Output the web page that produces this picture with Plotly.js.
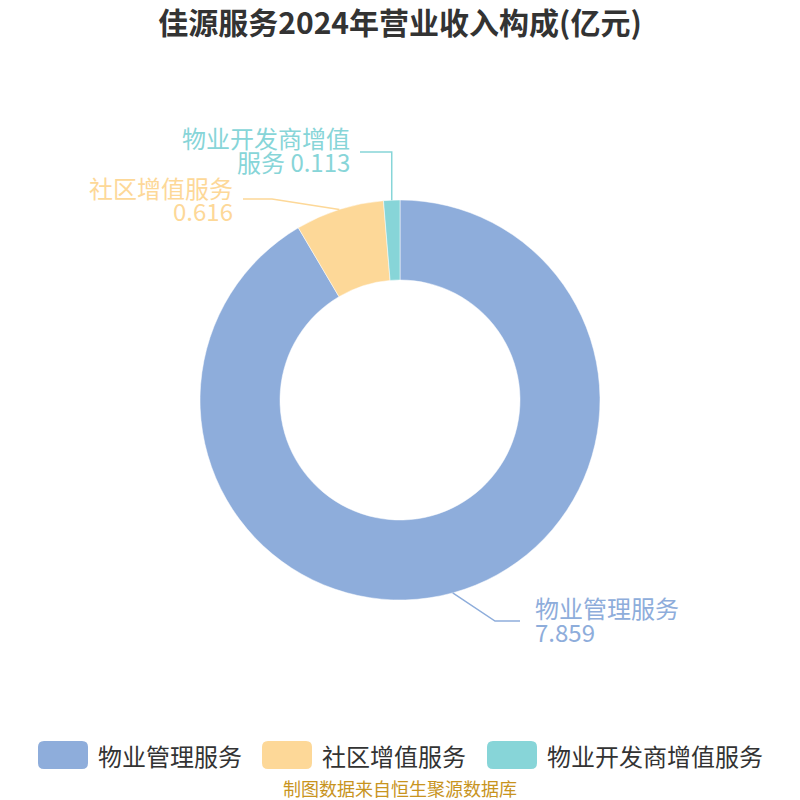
<!DOCTYPE html>
<html>
<head>
<meta charset="utf-8">
<script src="https://cdn.plot.ly/plotly-3.0.1.min.js"></script>
<style>html,body{margin:0;padding:0;background:#fff;}#chart{width:800px;height:800px;}</style>
</head>
<body>
<div id="chart"></div>
<script>
// ---- data ----
const titleText = '佳源服务2024年营业收入构成(亿元)';
const categories = ['物业管理服务', '社区增值服务', '物业开发商增值服务'];
const values = [7.859, 0.616, 0.113];
const valueLabels = ['7.859', '0.616', '0.113'];
const colors = ['#8eaddb', '#fdd898', '#87d5d8'];
const sourceText = '制图数据来自恒生聚源数据库';

// ---- layout constants (pixels) ----
const W = 800, H = 800;
const CX = 400, CY = 400, R = 200;
const FONT = '"Noto Sans CJK SC", "Microsoft YaHei", sans-serif';
const LABEL_SIZE = 24;
const LINE_GAP = 24;
// per slice label line: elbow (x or null => anchor x), elbow y, end x, side, first-line offset
const labelLayout = [
  {ex: 495, ey: 621, endx: 520, side: 'right', off: -14},
  {ex: 272, ey: 199, endx: 243, side: 'left', off: -12},
  {ex: null, ey: 152, endx: 360, side: 'left', off: -15}
];
const legendX = [38, 262, 487];
const legendY = 755;

const px = x => x / W;
const py = y => 1 - y / H;

const total = values.reduce((a, b) => a + b, 0);
const shapes = [];
const annotations = [];

let cum = 0;
values.forEach((v, i) => {
  const mid = (cum + v / 2) / total * 2 * Math.PI;
  cum += v;
  const ax = CX + R * Math.sin(mid);
  const ay = CY - R * Math.cos(mid);
  const L = labelLayout[i];
  const ex = L.ex === null ? ax : L.ex;
  const ey = L.ey;
  shapes.push({
    type: 'path', xref: 'paper', yref: 'paper',
    path: `M ${px(ax)} ${py(ay)} L ${px(ex)} ${py(ey)} L ${px(L.endx)} ${py(ey)}`,
    line: {color: colors[i], width: 1.5}
  });
  const name = categories[i];
  let lines;
  if (name.length > 7) {
    lines = [name.slice(0, 7), name.slice(7) + ' ' + valueLabels[i]];
  } else {
    lines = [name, valueLabels[i]];
  }
  const tx = L.side === 'right' ? L.endx + 13 : L.endx - 8;
  const y0 = ey + L.off;
  lines.forEach((t, k) => {
    annotations.push({
      xref: 'paper', yref: 'paper', x: px(tx), y: py(y0 + k * LINE_GAP),
      xanchor: L.side === 'right' ? 'left' : 'right', yanchor: 'middle',
      text: t, showarrow: false,
      font: {family: FONT, size: LABEL_SIZE, color: colors[i]}
    });
  });
});

// custom legend
function roundRect(x0, y0, x1, y1, r) {
  return `M ${px(x0 + r)} ${py(y0)} L ${px(x1 - r)} ${py(y0)} Q ${px(x1)} ${py(y0)} ${px(x1)} ${py(y0 + r)} ` +
    `L ${px(x1)} ${py(y1 - r)} Q ${px(x1)} ${py(y1)} ${px(x1 - r)} ${py(y1)} ` +
    `L ${px(x0 + r)} ${py(y1)} Q ${px(x0)} ${py(y1)} ${px(x0)} ${py(y1 - r)} ` +
    `L ${px(x0)} ${py(y0 + r)} Q ${px(x0)} ${py(y0)} ${px(x0 + r)} ${py(y0)} Z`;
}
categories.forEach((c, i) => {
  const x0 = legendX[i];
  shapes.push({
    type: 'path', xref: 'paper', yref: 'paper',
    path: roundRect(x0, legendY - 14, x0 + 50, legendY + 14, 6),
    fillcolor: colors[i], line: {width: 0}
  });
  annotations.push({
    xref: 'paper', yref: 'paper', x: px(x0 + 58), y: py(legendY),
    xanchor: 'left', yanchor: 'middle', text: c, showarrow: false,
    font: {family: FONT, size: 24, color: '#333333'}
  });
});

annotations.push({
  xref: 'paper', yref: 'paper', x: 0.5, y: py(788), xanchor: 'center', yanchor: 'middle',
  text: sourceText, showarrow: false,
  font: {family: FONT, size: 18, color: '#c8941e'}
});

const trace = {
  type: 'pie',
  labels: categories,
  values: values,
  marker: {colors: colors, line: {color: '#ffffff', width: 0.5}},
  hole: 0.6,
  sort: false,
  direction: 'clockwise',
  rotation: 0,
  textinfo: 'none',
  hoverinfo: 'none',
  showlegend: false,
  domain: {x: [0.25, 0.75], y: [0.25, 0.75]}
};

const layout = {
  width: W, height: H,
  margin: {l: 0, r: 0, t: 0, b: 0},
  paper_bgcolor: '#ffffff',
  title: {
    text: '<b>' + titleText + '</b>',
    x: 0.5, xanchor: 'center', y: py(23), yanchor: 'middle', yref: 'paper',
    font: {family: FONT, size: 30, color: '#333333'}
  },
  showlegend: false,
  shapes: shapes,
  annotations: annotations
};

Plotly.newPlot('chart', [trace], layout, {displayModeBar: false, staticPlot: true});
</script>
</body>
</html>
